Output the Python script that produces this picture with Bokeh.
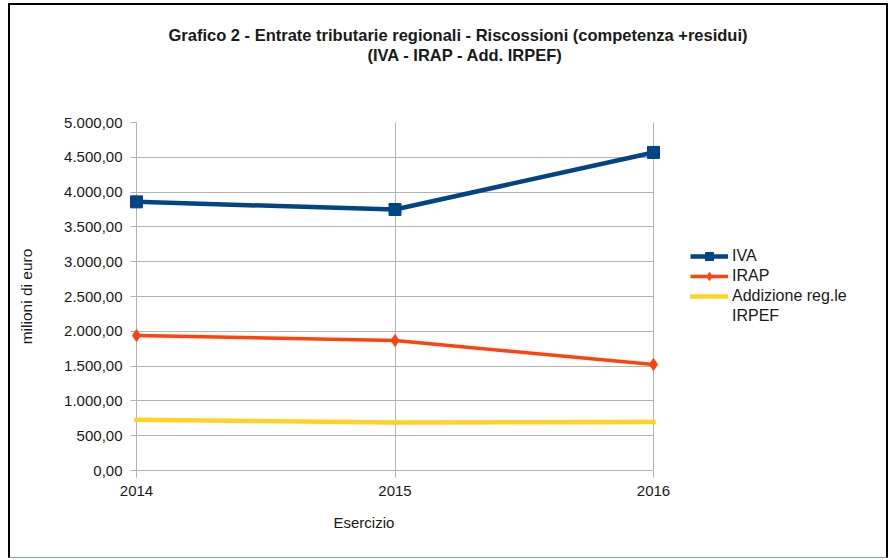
from bokeh.plotting import figure
from bokeh.layouts import column
from bokeh.models import (FixedTicker, Range1d, Legend, LegendItem, Title)
from bokeh.embed import file_html
from bokeh.resources import INLINE

# ---- data ----
years = [2014, 2015, 2016]
year_labels = ["2014", "2015", "2016"]
iva = [3860, 3750, 4570]
irap = [1940, 1868, 1523]
addizione = [730, 690, 697]
y_ticks = [0, 500, 1000, 1500, 2000, 2500, 3000, 3500, 4000, 4500, 5000]
y_tick_labels = ["0,00", "500,00", "1.000,00", "1.500,00", "2.000,00", "2.500,00",
                 "3.000,00", "3.500,00", "4.000,00", "4.500,00", "5.000,00"]
title_lines = ["Grafico 2 - Entrate tributarie regionali - Riscossioni (competenza +residui)",
               "(IVA - IRAP - Add. IRPEF)"]
series_names = ["IVA", "IRAP", "Addizione reg.le", "IRPEF"]
x_title = "Esercizio"
y_title = "milioni di euro"

FONT = "Liberation Sans"
GRID = "#b3b3b3"
TXT = "#1a1a1a"

# layout (page pixels): plotted area 136..653, frame extended to 866 to hold the legend
PLOT_L, PLOT_R, FRAME_R = 136, 653, 866
x_end = years[-1] + (years[-1] - years[0]) * (FRAME_R - PLOT_R) / (PLOT_R - PLOT_L)

p = figure(width=876, height=552, output_backend="svg", toolbar_location=None,
           x_range=Range1d(years[0], x_end), y_range=Range1d(0, 5000),
           min_border_left=126, min_border_right=20, min_border_top=117,
           min_border_bottom=87, title=None)
p.outline_line_color = None
p.background_fill_color = "white"
p.border_fill_color = "white"

# axes
p.xaxis.ticker = FixedTicker(ticks=years)
p.xaxis.major_label_overrides = {y: l for y, l in zip(years, year_labels)}
p.xaxis.bounds = (years[0], years[-1])
p.yaxis.ticker = FixedTicker(ticks=y_ticks)
p.yaxis.major_label_overrides = {t: l for t, l in zip(y_ticks, y_tick_labels)}
for ax in (p.xaxis[0], p.yaxis[0]):
    ax.axis_line_color = GRID
    ax.major_tick_line_color = GRID
    ax.major_tick_out = 6
    ax.major_tick_in = 0
    ax.minor_tick_line_color = None
    ax.major_label_text_font = FONT
    ax.major_label_text_font_size = "15px"
    ax.major_label_text_color = TXT
    ax.major_label_standoff = 8
p.xaxis.major_tick_out = 7
p.xaxis.major_label_standoff = 8
p.yaxis.axis_label = y_title
p.yaxis.axis_label_text_font = FONT
p.yaxis.axis_label_text_font_size = "15.5px"
p.yaxis.axis_label_text_font_style = "normal"
p.yaxis.axis_label_text_color = TXT
p.yaxis.axis_label_standoff = 26
p.xgrid.ticker = FixedTicker(ticks=years)
p.ygrid.ticker = FixedTicker(ticks=y_ticks)
p.xgrid.grid_line_color = GRID
p.ygrid.grid_line_color = GRID
if "cross_bounds" in p.ygrid[0].properties():
    p.ygrid[0].cross_bounds = (years[0], years[-1])

# series
l1 = p.line(years, iva, line_color="#004586", line_width=4.5, level="overlay")
s1 = p.scatter(years, iva, marker="square", size=12, fill_color="#004586",
               line_color="#004586", level="overlay")
l2 = p.line(years, irap, line_color="#ff420e", line_width=3.5, level="overlay")
s2 = p.scatter(years, irap, marker="diamond", size=12, fill_color="#ff420e",
               line_color="#ff420e", level="overlay")
l3 = p.line(years, addizione, line_color="#ffd320", line_width=4.5, level="overlay",
            line_cap="square")
l4 = p.line([], [], line_alpha=0)  # second line of the third legend label

legend = Legend(items=[LegendItem(label=series_names[0], renderers=[l1, s1]),
                       LegendItem(label=series_names[1], renderers=[l2, s2]),
                       LegendItem(label=series_names[2], renderers=[l3]),
                       LegendItem(label=series_names[3], renderers=[l4])],
                location=(554, 144), glyph_width=38, glyph_height=20, label_height=20,
                label_standoff=4, spacing=0, padding=0, margin=0,
                border_line_color=None, background_fill_alpha=0,
                label_text_font=FONT, label_text_font_size="16px",
                label_text_color=TXT)
p.add_layout(legend, "center")

# titles (stacked from the frame outwards)
p.add_layout(Title(text=" ", text_font_size="14px", standoff=41), "above")
p.add_layout(Title(text=title_lines[1], align="left", offset=231, text_font=FONT,
                   text_font_size="16.5px", text_font_style="bold", text_color=TXT,
                   standoff=0), "above")
p.add_layout(Title(text=title_lines[0], align="left", offset=32, text_font=FONT,
                   text_font_size="16.5px", text_font_style="bold", text_color=TXT,
                   standoff=0), "above")
p.add_layout(Title(text=x_title, align="left", offset=197, text_font=FONT,
                   text_font_size="15px", text_font_style="normal", text_color=TXT,
                   vertical_align="top", standoff=31), "below")

page = column(p, styles={"margin-left": "8px", "margin-top": "3px",
                         "border-left": "2px solid black", "border-top": "2px solid black",
                         "border-right": "2px solid black",
                         "border-bottom": "1px solid #7f9fd0"})

open("out.html", "w").write(file_html(page, INLINE))
